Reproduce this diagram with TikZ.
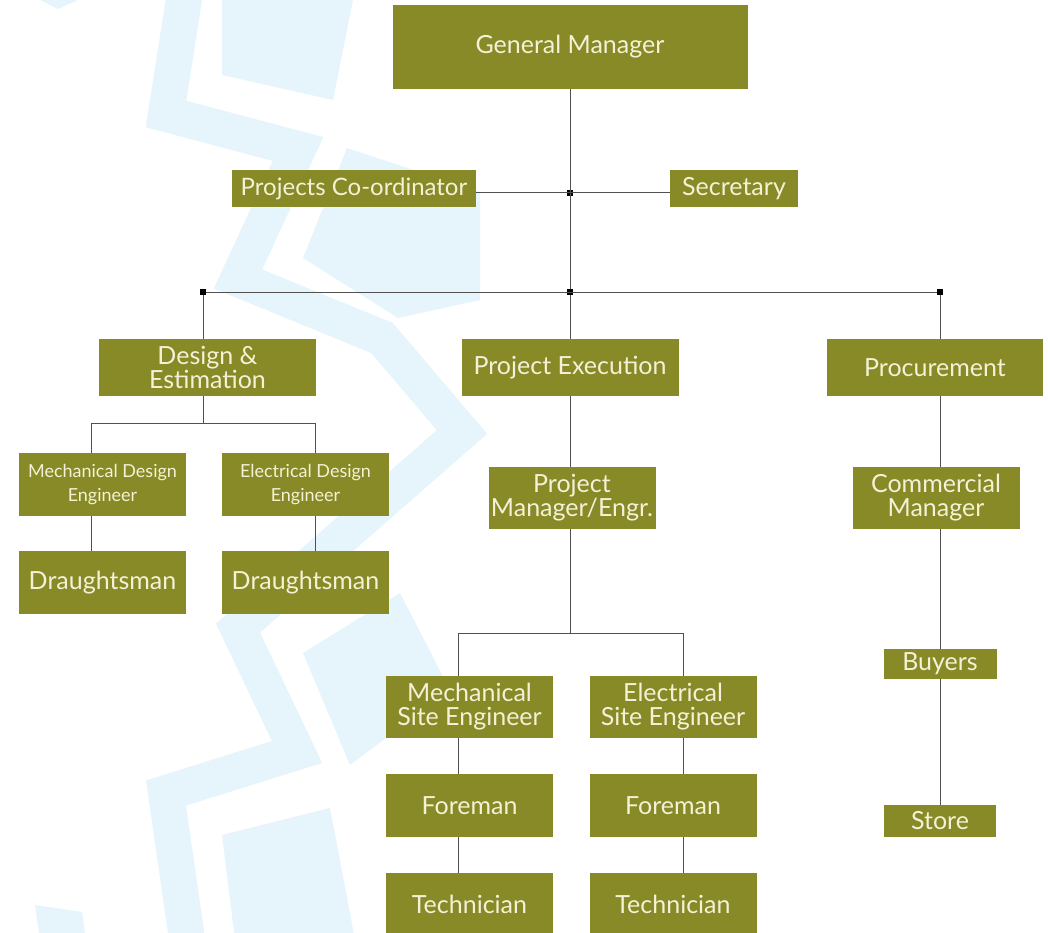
\documentclass[tikz,border=0pt]{standalone}
\usepackage{fontspec}
\setmainfont{Lato}
\usepackage{tikz}
\usetikzlibrary{positioning}

\definecolor{boxolive}{HTML}{878A26}
\definecolor{boxtext}{HTML}{F4F1D6}
\definecolor{linegray}{HTML}{505050}
\definecolor{markblue}{HTML}{E5F5FB}

\tikzset{
  box/.style={rectangle, fill=boxolive, text=boxtext, inner sep=0pt, align=center,
    minimum width=167pt, minimum height=63pt, font=\fontsize{25}{24}\selectfont},
  smallbox/.style={box, font=\fontsize{18}{24}\selectfont},
  dot/.style={rectangle, fill=black, inner sep=0pt, minimum size=6pt},
  link/.style={draw=linegray, line width=1pt},
  band/.style={draw=markblue, line width=36pt, miter limit=20}
}

\begin{document}
\begin{tikzpicture}[x=1pt,y=-1pt]
		\useasboundingbox (0,0) rectangle (1048,933);
		% watermark in the background
		\fill[markblue] (40,0) -- (78,0) -- (58,9) -- cycle;
		\draw[band] (187,-20) -- (166,114) -- (298,149) -- (238,279) -- (382,338) -- (462,432) -- (238,628) -- (297,752) -- (166,793) -- (190,960);
		\fill[markblue] (222,0) -- (353,0) -- (333,100) -- (222,75) -- cycle;
		\fill[markblue] (347,148) -- (480,192) -- (480,300) -- (398,318) -- (303,258) -- cycle;
		\fill[markblue] (303,653) -- (400,593) -- (450,690) -- (350,765) -- cycle;
		\fill[markblue] (222,835) -- (330,808) -- (355,940) -- (235,940) -- cycle;
		\fill[markblue] (35,905) -- (82,912) -- (86,940) -- (40,940) -- cycle;

		% boxes
		\node[box, minimum width=355pt, minimum height=84pt] (gm) at (570,47) {General Manager};
		\node[box, minimum width=244pt, minimum height=37pt, font=\fontsize{24}{24}\selectfont] (coord) at (354,188.5) {Projects Co-ordinator};
		\node[box, minimum width=128pt, minimum height=37pt] (sec) at (734,188.5) {Secretary};

		\node[box, minimum width=217pt, minimum height=57pt] (design) at (207.5,367.5) {Design \&\\Estimation};
		\node[box, minimum width=217pt, minimum height=57pt] (exec) at (570,367.5) {Project Execution};
		\node[box, minimum width=216pt, minimum height=57pt] (proc) at (935,367.5) {Procurement};

		\node[smallbox] (mde) at (102.5,484.5) {Mechanical Design\\Engineer};
		\node[smallbox] (ede) at (305.5,484.5) {Electrical Design\\Engineer};
		\node[box] (dr1) at (102.5,582.5) {Draughtsman};
		\node[box] (dr2) at (305.5,582.5) {Draughtsman};

		\node[box, minimum height=62pt] (pm) at (572,498) {Project\\Manager/Engr.};
		\node[box, minimum height=62pt] (mse) at (469.5,707) {Mechanical\\Site Engineer};
		\node[box, minimum height=62pt] (ese) at (673,707) {Electrical\\Site Engineer};
		\node[box] (fm1) at (469.5,805.5) {Foreman};
		\node[box] (fm2) at (673,805.5) {Foreman};
		\node[box, minimum height=62pt] (tc1) at (469.5,904) {Technician};
		\node[box, minimum height=62pt] (tc2) at (673,904) {Technician};

		\node[box, minimum height=62pt] (cm) at (936,498) {Commercial\\Manager};
		\node[box, minimum width=113pt, minimum height=30pt] (buy) at (940,664) {Buyers};
		\node[box, minimum width=112pt, minimum height=32pt] (store) at (940,821) {Store};

		% junctions
		\node[dot] (j1) at (570,193) {};
		\node[dot] (bl) at (203,292) {};
		\node[dot] (bm) at (570,292) {};
		\node[dot] (br) at (940,292) {};
		\coordinate (dl) at (91,423);
		\coordinate (dr) at (315,423);
		\coordinate (el) at (458,633);
		\coordinate (er) at (683,633);

		% connectors
		\draw[link] (gm.south) -- (bm);
		\draw[link] (coord.east |- j1) -- (sec.west |- j1);
		\draw[link] (bl) -- (br);
		\draw[link] (bl) -- (bl |- design.north);
		\draw[link] (bm) -- (exec.north);
		\draw[link] (br) -- (br |- proc.north);

		\draw[link] (bl |- design.south) -- (bl |- dl);
		\draw[link] (dl) -- (dr);
		\draw[link] (dl) -- (dl |- mde.north);
		\draw[link] (dr) -- (dr |- ede.north);
		\draw[link] (dl |- mde.south) -- (dl |- dr1.north);
		\draw[link] (dr |- ede.south) -- (dr |- dr2.north);

		\draw[link] (exec.south) -- (exec.south |- pm.north);
		\draw[link] (exec.south |- pm.south) -- (exec.south |- el);
		\draw[link] (el) -- (er);
		\draw[link] (el) -- (el |- mse.north);
		\draw[link] (er) -- (er |- ese.north);
		\draw[link] (el |- mse.south) -- (el |- fm1.north);
		\draw[link] (el |- fm1.south) -- (el |- tc1.north);
		\draw[link] (er |- ese.south) -- (er |- fm2.north);
		\draw[link] (er |- fm2.south) -- (er |- tc2.north);

		\draw[link] (br |- proc.south) -- (br |- cm.north);
		\draw[link] (br |- cm.south) -- (buy.north);
		\draw[link] (buy.south) -- (store.north);
	\end{tikzpicture}
\end{document}
